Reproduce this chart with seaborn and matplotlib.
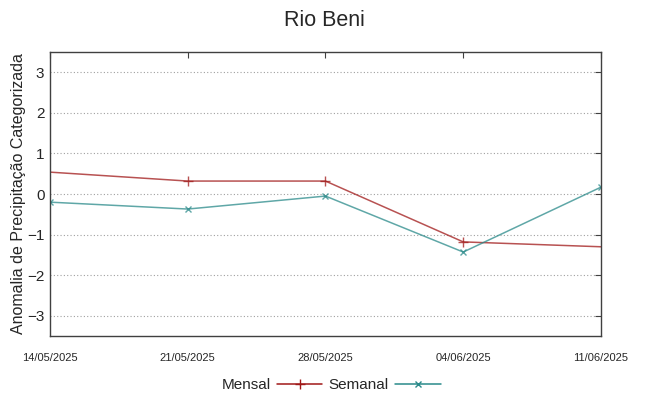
import pandas as pd
import matplotlib
matplotlib.use("Agg")
import matplotlib.pyplot as plt
import matplotlib.dates as mdates
import seaborn as sns

# data
datas = ["2025-05-14", "2025-05-21", "2025-05-28", "2025-06-04", "2025-06-11"]
mensal = [0.54, 0.32, 0.32, -1.18, -1.30]
semanal = [-0.20, -0.37, -0.05, -1.43, 0.17]
y_ticks = [-3, -2, -1, 0, 1, 2, 3]

cor_mensal = "#a01818"
cor_semanal = "#2a8a8a"

df = pd.DataFrame({"data": pd.to_datetime(datas), "Mensal": mensal, "Semanal": semanal})

sns.set_style("white")
plt.rcParams['font.family'] = ['Liberation Sans', 'DejaVu Sans']

fig = plt.figure(figsize=(6.49, 3.96), dpi=100)
ax = fig.add_axes([0.077, 0.1515, 0.849, 0.717])

sns.lineplot(data=df, x="data", y="Mensal", ax=ax, color=cor_mensal, alpha=0.75,
             lw=1.1, marker="+", markersize=7, mew=1.0, mec=cor_mensal,
             markevery=[1, 2, 3], label="Mensal")
sns.lineplot(data=df, x="data", y="Semanal", ax=ax, color=cor_semanal, alpha=0.75,
             lw=1.1, marker="x", markersize=5, mew=1.0, mec=cor_semanal, label="Semanal")

ax.set_xlim(df["data"].iloc[0], df["data"].iloc[-1])
ax.set_ylim(-3.5, 3.5)
ax.set_yticks(y_ticks)
ax.set_xticks(df["data"])
ax.xaxis.set_major_formatter(mdates.DateFormatter("%d/%m/%Y"))
ax.grid(axis="y", color="#a0a0a0", linestyle=(0, (1, 2)), lw=0.8)
ax.set_xlabel("")
ax.set_ylabel("Anomalia de Precipitação Categorizada", fontsize=11.5, labelpad=1)
ax.tick_params(axis="y", labelsize=11, direction="in", length=4, right=True, color="#404040", pad=4)
ax.tick_params(axis="x", labelsize=8, direction="in", length=4, top=True, color="#404040", pad=12)
for s in ax.spines.values():
    s.set_color("#404040")
    s.set_linewidth(1.0)

fig.suptitle("Rio Beni", fontsize=15.5, y=0.975)

leg = ax.legend(loc="upper center", bbox_to_anchor=(0.51, -0.1), ncol=2, frameon=False,
                markerfirst=False, fontsize=11, handlelength=3.0, columnspacing=0.4,
                handletextpad=0.4)
for h in leg.get_lines():
    h.set_alpha(1)

fig.savefig("out.png", dpi=100)
